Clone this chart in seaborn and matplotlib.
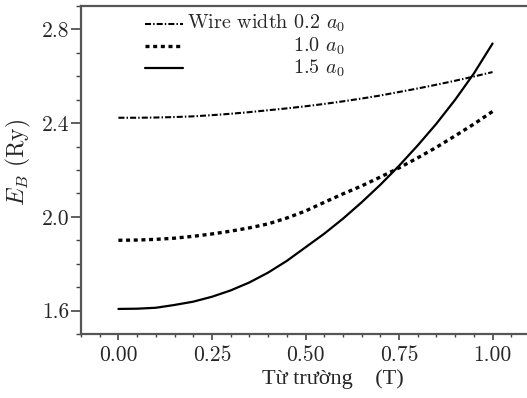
import numpy as np
import pandas as pd
import matplotlib
matplotlib.use('Agg')
import matplotlib.pyplot as plt
import seaborn as sns
from matplotlib.lines import Line2D
from matplotlib.ticker import MultipleLocator, FormatStrFormatter

# magnetic field (T) and binding energy (Ry)
field = [0.0, 0.05, 0.1, 0.15, 0.2, 0.25, 0.3, 0.35, 0.4, 0.45, 0.5,
         0.55, 0.6, 0.65, 0.7, 0.75, 0.8, 0.85, 0.9, 0.95, 1.0]
e_w02 = [2.423, 2.423, 2.424, 2.426, 2.429, 2.434, 2.440, 2.447, 2.455, 2.463, 2.472,
         2.482, 2.493, 2.505, 2.518, 2.533, 2.548, 2.564, 2.581, 2.599, 2.618]
e_w10 = [1.900, 1.901, 1.904, 1.909, 1.917, 1.927, 1.939, 1.953, 1.970, 1.995, 2.025,
         2.062, 2.098, 2.132, 2.170, 2.209, 2.252, 2.297, 2.346, 2.396, 2.450]
e_w15 = [1.607, 1.608, 1.612, 1.624, 1.638, 1.659, 1.686, 1.720, 1.762, 1.812, 1.870,
         1.928, 1.992, 2.062, 2.137, 2.218, 2.305, 2.398, 2.500, 2.612, 2.740]

widths = ['0.2', '1.0', '1.5']
legend_labels = ['Wire width 0.2 $a_0$', '1.0 $a_0$', '1.5 $a_0$']

df = pd.DataFrame({'B': field * 3,
                   'E': e_w02 + e_w10 + e_w15,
                   'w': sum([[w] * len(field) for w in widths], [])})

sns.set_style('ticks')
plt.rcParams['font.family'] = ['cmr10', 'DejaVu Serif']
plt.rcParams['mathtext.fontset'] = 'cm'
plt.rcParams['axes.unicode_minus'] = False
plt.rcParams['axes.formatter.use_mathtext'] = True

fig = plt.figure(figsize=(5.27, 3.98), dpi=100)
ax = fig.add_axes([81 / 527, 64 / 398, 449 / 527, 328 / 398])

styles = {'0.2': dict(ls=(0, (2.9, 1.0, 0.7, 1.0)), lw=1.5),
          '1.0': dict(ls=(0, (1.2, 1.1)), lw=2.4),
          '1.5': dict(ls='-', lw=1.6)}

handles = []
for w in widths:
    sub = df[df['w'] == w]
    sns.lineplot(data=sub, x='B', y='E', color='black', ax=ax,
                 linestyle=styles[w]['ls'], linewidth=styles[w]['lw'])
    handles.append(Line2D([], [], color='black', linestyle=styles[w]['ls'],
                          linewidth=styles[w]['lw']))

ax.set_xlim(-0.1, 1.1)
ax.set_ylim(1.5, 2.9)
ax.xaxis.set_major_locator(MultipleLocator(0.25))
ax.xaxis.set_minor_locator(MultipleLocator(0.05))
ax.yaxis.set_major_locator(MultipleLocator(0.4))
ax.yaxis.set_minor_locator(MultipleLocator(0.1))
ax.xaxis.set_major_formatter(FormatStrFormatter('%.2f'))
ax.yaxis.set_major_formatter(FormatStrFormatter('%.1f'))
ax.tick_params(axis='both', which='major', labelsize=15.5, direction='out', color='#444')
ax.tick_params(axis='y', which='major', length=7, width=1.2, pad=1.5)
ax.tick_params(axis='y', which='minor', length=3.5, width=1.0, color='#444')
ax.tick_params(axis='x', which='major', length=4, width=1.2, pad=4)
ax.tick_params(axis='x', which='minor', length=2.5, width=1.0, color='#444')

for s in ['left', 'bottom', 'top']:
    ax.spines[s].set_color('#555')
    ax.spines[s].set_linewidth(1.6)
ax.spines['right'].set_visible(False)

ax.set_ylabel('$E_B$ (Ry)', fontsize=17)
ax.yaxis.set_label_coords(-0.107, 0.524)
ax.set_xlabel('Từ trường    (T)', fontsize=16, family=['Liberation Serif'])
ax.xaxis.set_label_coords(0.561, -0.108)

leg = ax.legend(handles, ['', '', ''], loc='upper left', frameon=False,
                bbox_to_anchor=(0.103, 1.02), handlelength=1.95,
                labelspacing=0.2, fontsize=14, handletextpad=0)
row_y = [0.948, 0.878, 0.81]
for lab, y in zip(legend_labels, row_y):
    ax.text(0.588, y, lab, transform=ax.transAxes, ha='right', va='center',
            fontsize=14.5)

fig.savefig('out.png', dpi=100)
